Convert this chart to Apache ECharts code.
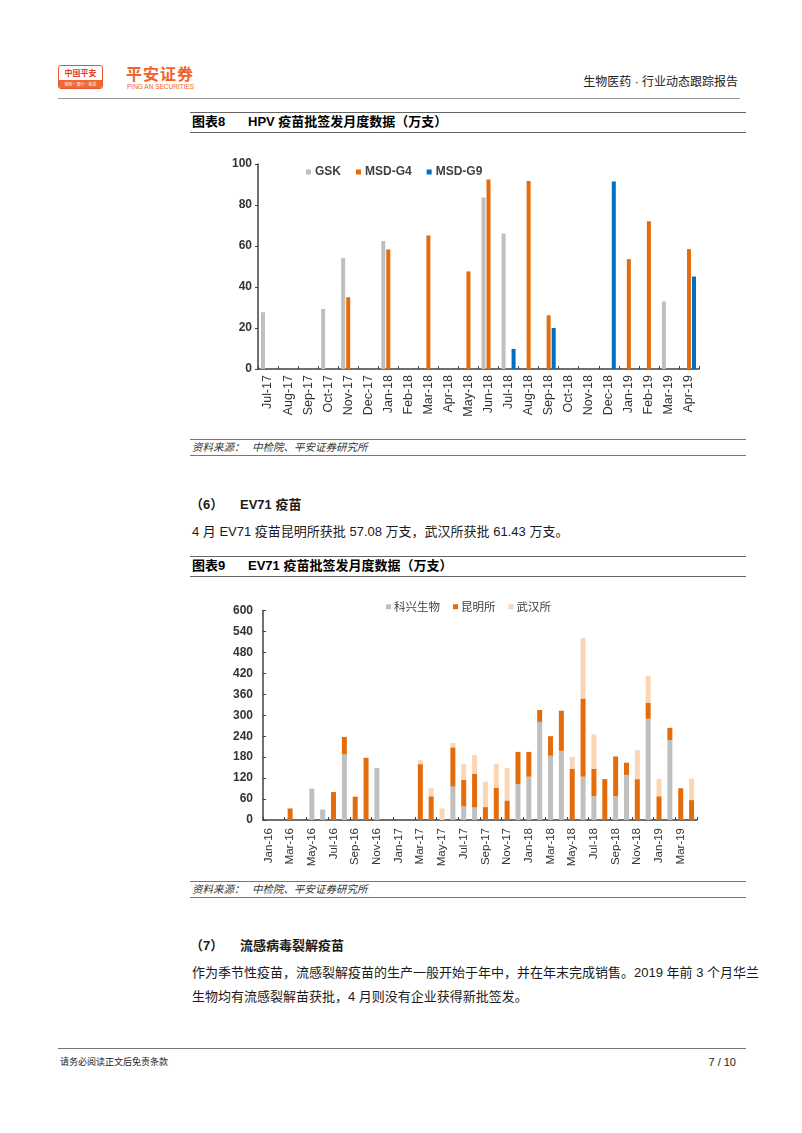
<!DOCTYPE html>
<html><head><meta charset="utf-8">
<script src="https://cdn.jsdelivr.net/npm/echarts@6/dist/echarts.min.js"></script>
<style>
html,body{margin:0;padding:0;background:#fff;}
body{width:802px;height:1133px;position:relative;overflow:hidden;font-family:"Liberation Sans",Arial,"Noto Sans CJK SC",sans-serif;color:#1a1a1a;}
.t{position:absolute;white-space:nowrap;line-height:16px;height:16px;}
.ln{position:absolute;height:0;}
.b{font-weight:bold;}
.src{font-style:italic;font-size:10.5px;color:#333;}
</style></head><body>

<!-- header -->
<div style="position:absolute;left:58px;top:65px;width:43px;height:22px;border:1px solid #e8552a;border-radius:3px;overflow:hidden;">
  <div style="height:14px;line-height:14px;text-align:center;font-size:8px;font-weight:bold;color:#e2422b;font-family:'Noto Sans CJK SC';">中国平安</div>
  <div style="height:8px;line-height:8px;background:#ee6a34;color:#fff;font-size:4px;text-align:center;font-family:'Noto Sans CJK SC';">保险·银行·投资</div>
</div>
<div class="t b" style="left:126px;top:64px;font-size:16px;line-height:18px;height:18px;color:#f2622a;font-family:'Noto Sans CJK SC';letter-spacing:1px;">平安证券</div>
<div class="t" style="left:127px;top:82px;font-size:6.5px;line-height:9px;height:9px;color:#f2622a;">PING AN SECURITIES</div>
<div class="t" style="right:64px;top:74px;font-size:12px;color:#222;">生物医药 · 行业动态跟踪报告</div>
<div class="ln" style="left:58px;width:682px;top:98px;border-top:1.5px solid #9a9a9a;"></div>

<!-- figure 8 title -->
<div class="ln" style="left:190px;width:556px;top:112px;border-top:1.5px solid #666;"></div>
<div class="t b" style="left:192px;top:114px;font-size:13px;color:#000;">图表8</div>
<div class="t b" style="left:248px;top:114px;font-size:13px;color:#000;">HPV 疫苗批签发月度数据（万支）</div>
<div class="ln" style="left:190px;width:556px;top:132px;border-top:1px solid #666;"></div>

<div id="c1" style="position:absolute;left:190px;top:135px;width:556px;height:300px;"></div>

<div class="ln" style="left:190px;width:556px;top:439px;border-top:1px solid #777;"></div>
<div class="t src" style="left:192px;top:439px;">资料来源：</div>
<div class="t src" style="left:252px;top:439px;">中检院、平安证券研究所</div>
<div class="ln" style="left:190px;width:556px;top:455px;border-top:1px solid #777;"></div>

<div class="t b" style="left:190px;top:497px;font-size:13px;">（6）</div>
<div class="t b" style="left:240px;top:497px;font-size:13px;">EV71 疫苗</div>
<div class="t" style="left:192px;top:524px;font-size:13px;">4 月 EV71 疫苗昆明所获批 57.08 万支，武汉所获批 61.43 万支。</div>

<!-- figure 9 title -->
<div class="ln" style="left:190px;width:556px;top:556px;border-top:1.5px solid #666;"></div>
<div class="t b" style="left:192px;top:558px;font-size:13px;color:#000;">图表9</div>
<div class="t b" style="left:248px;top:558px;font-size:13px;color:#000;">EV71 疫苗批签发月度数据（万支）</div>
<div class="ln" style="left:190px;width:556px;top:576px;border-top:1px solid #666;"></div>

<div id="c2" style="position:absolute;left:190px;top:590px;width:556px;height:290px;"></div>

<div class="ln" style="left:190px;width:556px;top:881px;border-top:1px solid #777;"></div>
<div class="t src" style="left:192px;top:881px;">资料来源：</div>
<div class="t src" style="left:252px;top:881px;">中检院、平安证券研究所</div>
<div class="ln" style="left:190px;width:556px;top:897px;border-top:1px solid #777;"></div>

<div class="t b" style="left:190px;top:938px;font-size:13px;">（7）</div>
<div class="t b" style="left:240px;top:938px;font-size:13px;">流感病毒裂解疫苗</div>
<div class="t" style="left:192px;top:965px;font-size:13px;">作为季节性疫苗，流感裂解疫苗的生产一般开始于年中，并在年末完成销售。2019 年前 3 个月华兰</div>
<div class="t" style="left:192px;top:989px;font-size:13px;">生物均有流感裂解苗获批，4 月则没有企业获得新批签发。</div>

<div class="ln" style="left:58px;width:688px;top:1048px;border-top:1px solid #777;"></div>
<div class="t" style="left:60px;top:1054px;font-size:9px;color:#222;">请务必阅读正文后免责条款</div>
<div class="t" style="right:66px;top:1054px;font-size:11px;color:#222;">7 / 10</div>

<script>
// ---------- Chart 8 data: HPV vaccine batch release (10k doses) ----------
var hpvMonths = ['Jul-17','Aug-17','Sep-17','Oct-17','Nov-17','Dec-17','Jan-18','Feb-18','Mar-18','Apr-18','May-18','Jun-18','Jul-18','Aug-18','Sep-18','Oct-18','Nov-18','Dec-18','Jan-19','Feb-19','Mar-19','Apr-19'];
var hpvGSK   = [27.7,null,null,29.3,54.2,null,62.4,null,null,null,null,83.7,66.1,null,null,null,null,null,null,null,32.9,null];
var hpvMSDG4 = [null,null,null,null,35.0,null,58.3,null,65.1,null,47.6,92.5,null,91.7,26.2,null,null,null,53.6,72.1,null,58.5];
var hpvMSDG9 = [null,null,null,null,null,null,null,null,null,null,null,null,9.8,null,20.0,null,null,91.5,null,null,null,45.1];
var hpvYTicks = [0,20,40,60,80,100];

// ---------- Chart 9 data: EV71 vaccine batch release (10k doses) ----------
var evMonths = ['Jan-16','Feb-16','Mar-16','Apr-16','May-16','Jun-16','Jul-16','Aug-16','Sep-16','Oct-16','Nov-16','Dec-16',
                'Jan-17','Feb-17','Mar-17','Apr-17','May-17','Jun-17','Jul-17','Aug-17','Sep-17','Oct-17','Nov-17','Dec-17',
                'Jan-18','Feb-18','Mar-18','Apr-18','May-18','Jun-18','Jul-18','Aug-18','Sep-18','Oct-18','Nov-18','Dec-18',
                'Jan-19','Feb-19','Mar-19','Apr-19'];
var evKexing  = [null,null,null,null,90,30,null,188,null,null,149,null,
                 null,null,null,null,null,96,39,36,null,null,null,103,
                 124,281,184,198,null,124,68,null,68,129,null,290,
                 null,229,null,null];
var evKunming = [null,null,33,null,null,null,80,50,67,178,null,null,
                 null,null,160,68,null,112,76,97,37,93,56,92,
                 71,34,56,115,147,224,79,117,114,35,117,46,
                 68,35,91,57.08];
var evWuhan   = [null,null,null,null,null,null,null,null,null,null,null,null,
                 null,null,11,23,33,12,45,53,73,68,93,null,
                 null,null,null,null,34,173,98,null,null,null,83,77,
                 50,null,null,61.43];
var evYTicks = [0,60,120,180,240,300,360,420,480,540,600];

var FONT = 'Liberation Sans, Arial, Noto Sans CJK SC, sans-serif';
var NARROW = 'Liberation Sans Narrow, Arial Narrow, Liberation Sans, Arial, sans-serif';
var C_GRAY = '#BFBFBF', C_ORANGE = '#E46C0A', C_BLUE = '#0070C0', C_PEACH = '#FCD5B4';

var c1 = echarts.init(document.getElementById('c1'), null, {renderer:'canvas'});
c1.setOption({
  animation:false,
  textStyle:{fontFamily:FONT},
  grid:{left:68, right:47, top:29, bottom:66},
  legend:{
    left:116, top:31, padding:0, itemWidth:5, itemHeight:5, itemGap:15, icon:'rect',
    textStyle:{fontFamily:FONT, fontSize:12, fontWeight:'bold', color:'#404040', padding:[0,0,0,-1]},
    data:['GSK','MSD-G4','MSD-G9']
  },
  xAxis:{
    type:'category', data:hpvMonths, boundaryGap:true,
    axisLine:{lineStyle:{color:'#404040', width:1.5}},
    axisTick:{show:true, inside:true, length:3, lineStyle:{color:'#404040'}},
    axisLabel:{rotate:90, interval:0, margin:6, fontSize:12.5, color:'#333', fontFamily:FONT}
  },
  yAxis:{
    type:'value', min:hpvYTicks[0], max:hpvYTicks[hpvYTicks.length-1], interval:hpvYTicks[1]-hpvYTicks[0],
    splitLine:{show:false},
    axisLine:{show:true, lineStyle:{color:'#404040', width:1.5}},
    axisTick:{show:true, length:3, lineStyle:{color:'#404040'}},
    axisLabel:{margin:6, fontSize:12, fontWeight:'bold', color:'#333', fontFamily:FONT}
  },
  series:[
    {name:'GSK', type:'bar', data:hpvGSK, barWidth:4, barGap:'25%', itemStyle:{color:C_GRAY}},
    {name:'MSD-G4', type:'bar', data:hpvMSDG4, barWidth:4, barGap:'25%', itemStyle:{color:C_ORANGE}},
    {name:'MSD-G9', type:'bar', data:hpvMSDG9, barWidth:4, barGap:'25%', itemStyle:{color:C_BLUE}}
  ]
});

var c2 = echarts.init(document.getElementById('c2'), null, {renderer:'canvas'});
c2.setOption({
  animation:false,
  textStyle:{fontFamily:FONT},
  grid:{left:73, right:49, top:20.5, bottom:60},
  legend:{
    left:196, top:11, padding:0, itemWidth:5, itemHeight:5, itemGap:13, icon:'rect',
    textStyle:{fontFamily:'Noto Sans CJK SC', fontSize:11.5, color:'#404040', padding:[0,0,0,-2]},
    data:['科兴生物','昆明所','武汉所']
  },
  xAxis:{
    type:'category', data:evMonths, boundaryGap:true,
    axisLine:{lineStyle:{color:'#404040', width:1.5}},
    axisTick:{show:true, inside:true, length:3, interval:1, lineStyle:{color:'#404040'}},
    axisLabel:{rotate:90, interval:1, margin:8, fontSize:11.5, color:'#333', fontFamily:NARROW}
  },
  yAxis:{
    type:'value', min:evYTicks[0], max:evYTicks[evYTicks.length-1], interval:evYTicks[1]-evYTicks[0],
    splitLine:{show:false},
    axisLine:{show:true, lineStyle:{color:'#404040', width:1.5}},
    axisTick:{show:true, inside:true, length:3, lineStyle:{color:'#404040'}},
    axisLabel:{margin:10, fontSize:12, fontWeight:'bold', color:'#333', fontFamily:FONT}
  },
  series:[
    {name:'科兴生物', type:'bar', stack:'ev', data:evKexing, barWidth:5, itemStyle:{color:C_GRAY}},
    {name:'昆明所', type:'bar', stack:'ev', data:evKunming, barWidth:5, itemStyle:{color:C_ORANGE}},
    {name:'武汉所', type:'bar', stack:'ev', data:evWuhan, barWidth:5, itemStyle:{color:C_PEACH}}
  ]
});
</script>
</body></html>
